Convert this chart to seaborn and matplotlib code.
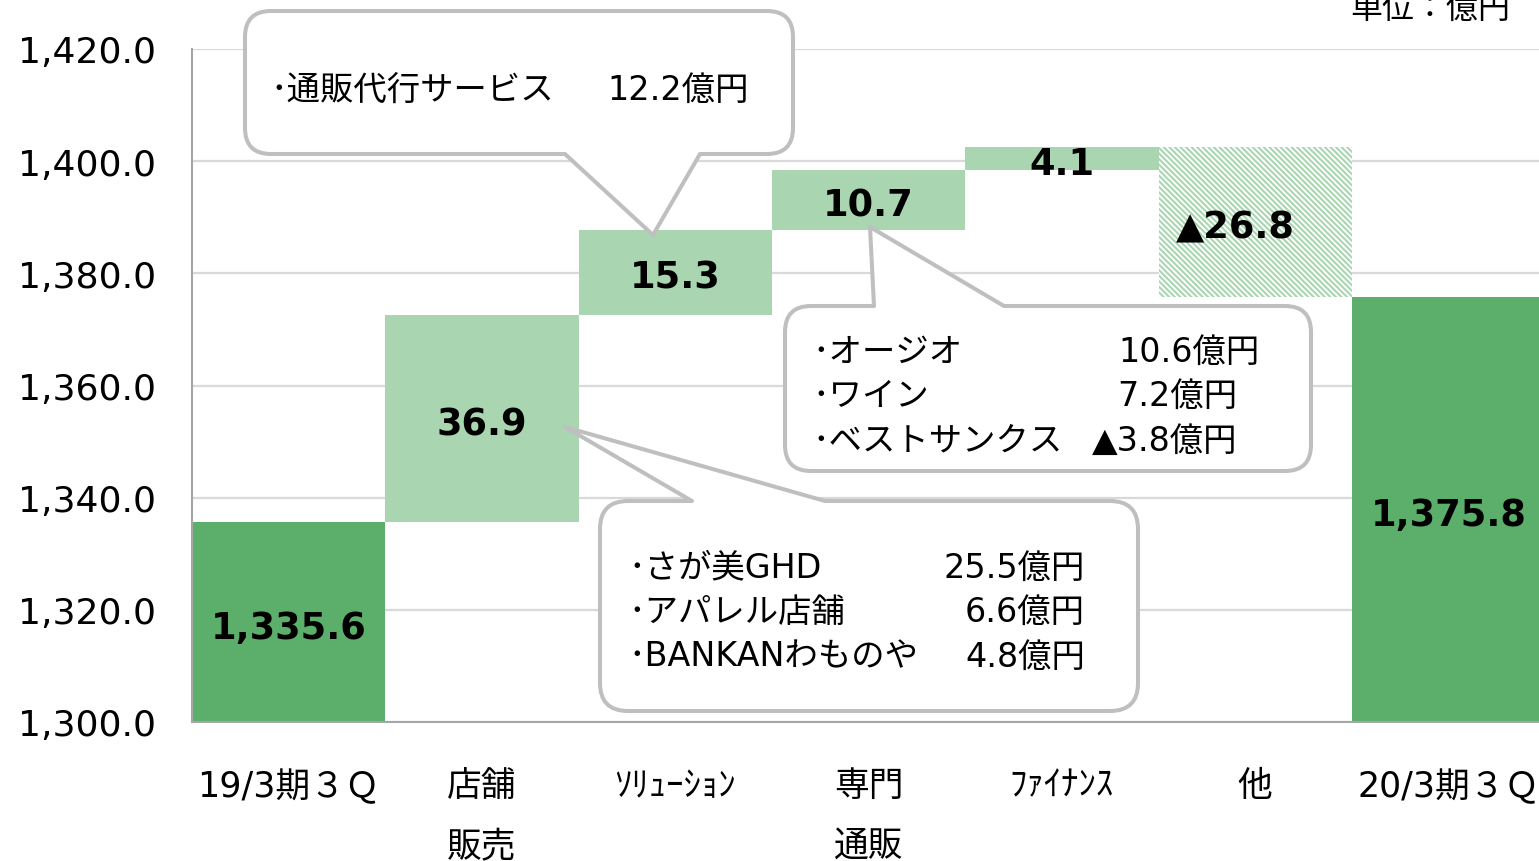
import numpy as np
import pandas as pd
import matplotlib
matplotlib.use("Agg")
import matplotlib.pyplot as plt
import seaborn as sns
from matplotlib.path import Path
from matplotlib.patches import PathPatch
from matplotlib.transforms import ScaledTranslation

# ---------------- data ----------------
categories = ["19/3期３Ｑ", "店舗\n販売", "ｿﾘｭｰｼｮﾝ", "専門\n通販", "ﾌｧｲﾅﾝｽ", "他", "20/3期３Ｑ"]
start_total = 1335.6
changes = [36.9, 15.3, 10.7, 4.1, -26.8]
end_total = 1375.8
value_labels = ["1,335.6", "36.9", "15.3", "10.7", "4.1", "▲26.8", "1,375.8"]
y_ticks = [1300, 1320, 1340, 1360, 1380, 1400, 1420]
unit_label = "単位：億円"

callout1_names = ["･通販代行サービス"]
callout1_values = ["12.2億円"]
callout2_names = ["･オージオ", "･ワイン", "･ベストサンクス"]
callout2_values = ["10.6億円", "7.2億円", "▲3.8億円"]
callout3_names = ["･さが美GHD", "･アパレル店舗", "･BANKANわものや"]
callout3_values = ["25.5億円", "6.6億円", "4.8億円"]

# ---------------- derived waterfall table ----------------
levels = start_total + np.cumsum([0.0] + changes)
bottoms = [0.0]
heights = [start_total]
for i, c in enumerate(changes):
    bottoms.append(min(levels[i], levels[i + 1]))
    heights.append(abs(c))
bottoms.append(0.0)
heights.append(end_total)
mids = [(max(b, y_ticks[0]) + b + h) / 2 for b, h in zip(bottoms, heights)]
df = pd.DataFrame({"cat": categories, "height": heights, "bottom": bottoms})

# ---------------- style ----------------
sns.set_style("white")
plt.rcParams["font.family"] = ["DejaVu Sans", "Noto Sans CJK JP"]
plt.rcParams["hatch.linewidth"] = 1.5

W, H = 1539, 862
fig = plt.figure(figsize=(W / 100, H / 100), dpi=100)
cat_w = 193.3
ax = fig.add_axes([192 / W, (H - 723) / H, cat_w * len(categories) / W, 673 / H])

DARK = "#5BAF6A"
LIGHT = "#A9D6B1"

sns.barplot(data=df, x="cat", y="height", order=categories, bottom=df["bottom"].values,
            width=1.0, errorbar=None, ax=ax, linewidth=0, color=LIGHT)

for i, p in enumerate(ax.patches):
    p.set_linewidth(0)
    if i in (0, len(categories) - 1):
        p.set_facecolor(DARK)
    elif changes[i - 1] < 0:
        p.set_facecolor("white")
        p.set_edgecolor(LIGHT)
        p.set_hatch("\\\\\\\\\\\\")
    else:
        p.set_facecolor(LIGHT)
    p.set_zorder(2)

ax.set_xlim(-0.5, len(categories) - 0.5)
ax.set_ylim(y_ticks[0], y_ticks[-1])
ax.set_yticks(y_ticks)
ax.set_yticklabels([f"{v:,.1f}" for v in y_ticks], fontsize=26)
ax.yaxis.grid(True, color="#D9D9D9", linewidth=1.6, zorder=0)
ax.set_axisbelow(True)
ax.set_xlabel("")
ax.set_ylabel("")

ax.set_xticks(range(len(categories)))
ax.set_xticklabels(categories, fontsize=25, linespacing=2.0, va="top")
ax.set_xticks(np.arange(-0.5, len(categories) - 1, 1.0), minor=True)
ax.tick_params(axis="x", which="major", length=0, pad=33, labelcolor="black")
ax.tick_params(axis="x", which="minor", length=9, width=1.3, color="#A6A6A6")
ax.tick_params(axis="y", length=9, width=1.3, color="#A6A6A6", pad=17, labelcolor="black")

for s in ["top", "right"]:
    ax.spines[s].set_visible(False)
for s in ["left", "bottom"]:
    ax.spines[s].set_color("#A6A6A6")
    ax.spines[s].set_linewidth(1.5)
    ax.spines[s].set_zorder(3)

# bar value labels (nudged a few pixels down; negative label shifted left like the original)
for i, lab in enumerate(value_labels):
    dx = -20 if lab.startswith("▲") else 0
    tr = ax.transData + ScaledTranslation(dx / 100, -5 / 100, fig.dpi_scale_trans)
    ax.text(i, mids[i], lab, ha="center", va="center", fontsize=26.5,
            fontweight="bold", color="black", zorder=5, transform=tr)

# ---------------- helpers in pixel coords ----------------
def fx(x):
    return x / W

def fy(y):
    return 1 - y / H

def bubble(l, t, r, b, rad, side, b0, b1, tip):
    V, C = [], []
    def mv(p): V.append(p); C.append(Path.MOVETO)
    def ln(p): V.append(p); C.append(Path.LINETO)
    def cv(c, p): V.extend([c, p]); C.extend([Path.CURVE3, Path.CURVE3])
    mv((l + rad, t))
    if side == "top":
        ln((b0, t)); ln(tip); ln((b1, t))
    ln((r - rad, t)); cv((r, t), (r, t + rad))
    ln((r, b - rad)); cv((r, b), (r - rad, b))
    if side == "bottom":
        ln((b1, b)); ln(tip); ln((b0, b))
    ln((l + rad, b)); cv((l, b), (l, b - rad))
    ln((l, t + rad)); cv((l, t), (l + rad, t))
    V.append((l + rad, t)); C.append(Path.CLOSEPOLY)
    verts = [(fx(x), fy(y)) for x, y in V]
    patch = PathPatch(Path(verts, C), facecolor="white", edgecolor="#BFBFBF",
                      linewidth=2.9, transform=fig.transFigure, zorder=6,
                      joinstyle="round")
    fig.add_artist(patch)

def txt(x, y, s, ha="left"):
    fig.text(fx(x), fy(y), s, ha=ha, va="center", fontsize=24, color="black", zorder=7)

# callout 1 (ソリューション)
bubble(245, 12, 793, 155, 26, "bottom", 565, 700, (653, 236))
txt(270, 90, callout1_names[0])
txt(607, 90, callout1_values[0])

# callout 2 (専門通販)
bubble(785, 307, 1311, 472, 26, "top", 874, 1004, (870, 228))
for k, (n, v) in enumerate(zip(callout2_names, callout2_values)):
    txt(812, 352 + 44.5 * k, n)
    txt(1260 if k == 0 else 1237, 352 + 44.5 * k, v, ha="right")

# callout 3 (店舗販売)
bubble(600, 502, 1138, 712, 28, "top", 692, 825, (565, 428))
for k, (n, v) in enumerate(zip(callout3_names, callout3_values)):
    txt(628, 568 + 44.5 * k, n)
    txt(1085, 568 + 44.5 * k, v, ha="right")

# unit label
fig.text(fx(1510), fy(9), unit_label, ha="right", va="center", fontsize=23, color="black")

fig.savefig("out.png", dpi=100)
